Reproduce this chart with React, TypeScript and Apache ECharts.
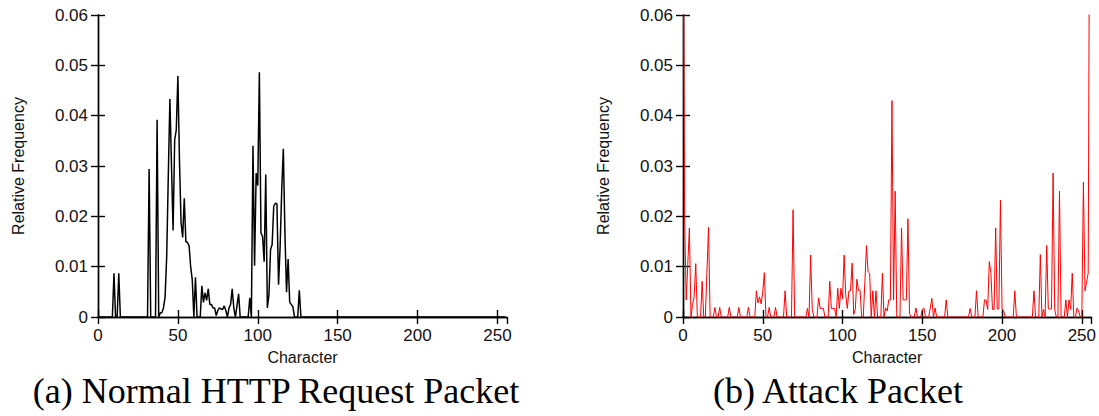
import React, { useEffect, useRef } from "react";
import * as echarts from "echarts";

// Tick values
const xTickValues = [0, 50, 100, 150, 200, 250];
const yTickLabels = ["0", "0.01", "0.02", "0.03", "0.04", "0.05", "0.06"];

// Relative frequency of each byte value (0..255), normal HTTP request packet
const normalFreq = [
  0, 0, 0, 0, 0, 0, 0, 0, 0, 0, 0.0087, 0, 0, 0.0087, 0, 0,
  0, 0, 0, 0, 0, 0, 0, 0, 0, 0, 0, 0, 0, 0, 0, 0,
  0.0294, 0, 0, 0, 0, 0.0392, 0, 0.0008, 0.0009, 0.0018, 0.004, 0.012, 0.028, 0.0433, 0.03, 0.0172,
  0.0352, 0.0372, 0.0479, 0.031, 0.0187, 0.0158, 0.0236, 0.015, 0.0148, 0.0142, 0.01, 0.0074, 0, 0.0079, 0, 0,
  0, 0.0062, 0.0029, 0.0048, 0.0033, 0.0056, 0.0025, 0.0025, 0.0018, 0.0018, 0.0003, 0.0013, 0.0018, 0.0016, 0.0015, 0.0022,
  0.0013, 0, 0.0018, 0.0025, 0.0056, 0.0018, 0, 0.0022, 0.0046, 0, 0, 0, 0, 0, 0, 0.0038,
  0, 0.034, 0.0102, 0.0286, 0.0261, 0.0486, 0.0167, 0.016, 0.011, 0.0283, 0.0018, 0.0044, 0.0134, 0.0144, 0.022, 0.0226,
  0.0225, 0.0064, 0.014, 0.0253, 0.0334, 0.0167, 0.0049, 0.0115, 0.0029, 0.0025, 0.002, 0, 0, 0, 0.0053, 0,
  0, 0, 0, 0, 0, 0, 0, 0, 0, 0, 0, 0, 0, 0, 0, 0,
  0, 0, 0, 0, 0, 0, 0, 0, 0, 0, 0, 0, 0, 0, 0, 0,
  0, 0, 0, 0, 0, 0, 0, 0, 0, 0, 0, 0, 0, 0, 0, 0,
  0, 0, 0, 0, 0, 0, 0, 0, 0, 0, 0, 0, 0, 0, 0, 0,
  0, 0, 0, 0, 0, 0, 0, 0, 0, 0, 0, 0, 0, 0, 0, 0,
  0, 0, 0, 0, 0, 0, 0, 0, 0, 0, 0, 0, 0, 0, 0, 0,
  0, 0, 0, 0, 0, 0, 0, 0, 0, 0, 0, 0, 0, 0, 0, 0,
  0, 0, 0, 0, 0, 0, 0, 0, 0, 0, 0, 0, 0, 0, 0, 0,
];

// Relative frequency of each byte value (0..255), attack packet
const attackFreq = [
  0.1, 0.02, 0.0034, 0.0105, 0.0177, 0, 0.0025, 0.004, 0.0106, 0, 0, 0, 0.0071, 0, 0, 0.0089,
  0.0178, 0, 0, 0, 0.0019, 0, 0, 0.0019, 0, 0, 0, 0, 0, 0.0019, 0, 0,
  0, 0, 0, 0.0019, 0, 0, 0, 0, 0, 0.0019, 0, 0, 0, 0, 0.0052, 0.0028,
  0.004, 0.0026, 0.005, 0.0088, 0, 0, 0.0019, 0, 0, 0, 0.0019, 0, 0, 0, 0, 0,
  0.0052, 0, 0, 0, 0, 0.0213, 0, 0, 0, 0, 0, 0, 0, 0, 0.0017, 0,
  0.0123, 0.0017, 0, 0, 0, 0.0038, 0.0017, 0.0017, 0.0017, 0, 0, 0, 0.0071, 0.0017, 0.0017, 0.0017,
  0, 0.0057, 0.0017, 0.0057, 0.0036, 0.0123, 0.0045, 0.0017, 0.0052, 0.0052, 0.0107, 0.0005, 0.0015, 0.0075, 0.0053, 0.0053,
  0, 0, 0.007, 0.0142, 0.009, 0.0087, 0, 0.0052, 0, 0.0052, 0, 0, 0, 0.0087, 0, 0.0018,
  0.0012, 0.0034, 0.0034, 0.043, 0.0034, 0.025, 0, 0, 0, 0.0177, 0.0034, 0.0034, 0.0034, 0.0195, 0.0007, 0,
  0, 0, 0.0018, 0, 0, 0, 0.0015, 0.0018, 0, 0, 0, 0.0018, 0.0037, 0, 0.0018, 0,
  0, 0, 0, 0, 0, 0.0034, 0, 0, 0, 0, 0, 0, 0, 0, 0, 0,
  0, 0, 0, 0, 0.0017, 0, 0, 0, 0.0052, 0, 0, 0, 0, 0.0034, 0.0034, 0.0015,
  0.011, 0.0089, 0.0015, 0.0015, 0.0177, 0.0016, 0.0016, 0.0232, 0.0016, 0.0012, 0, 0, 0, 0, 0, 0,
  0.0052, 0, 0, 0, 0, 0, 0, 0, 0, 0, 0, 0, 0.0052, 0, 0, 0,
  0.0124, 0, 0.0015, 0, 0.0142, 0.0016, 0.0016, 0.0016, 0.0286, 0.0015, 0, 0, 0.025, 0, 0, 0,
  0.0034, 0, 0.0034, 0.0015, 0.0087, 0, 0, 0.0018, 0.0012, 0, 0, 0.0268, 0.0052, 0.007, 0.0087, 0.1,
];

const panelTitles = ["(a) Normal HTTP Request Packet", "(b) Attack Packet"];
const xAxisName = "Character";
const yAxisName = "Relative Frequency";

export default function App() {
  const ref = useRef<HTMLDivElement>(null);

  useEffect(() => {
    const chart = echarts.init(ref.current!, null, { renderer: "svg" });
    const sans = "Liberation Sans";
    const lineCol = "#000";
    const grids = [
      { left: 98, top: 15, width: 409, height: 302 },
      { left: 683, top: 15, width: 409, height: 302 },
    ];
    const xAxes: any[] = [];
    const yAxes: any[] = [];
    grids.forEach((_, g) => {
      const tick = { show: true, inside: true, length: 7, lineStyle: { color: lineCol, width: 1.4 } };
      const axLine = { show: true, lineStyle: { color: lineCol, width: 1.4 } };
      xAxes.push({
        type: "value", gridIndex: g, position: "bottom", min: 0, max: 256, interval: 50,
        axisLine: axLine, axisTick: tick, splitLine: { show: false },
        axisLabel: {
          color: "#111", fontSize: 17, fontFamily: sans, margin: 10, showMaxLabel: false,
          formatter: (v: number) => (xTickValues.includes(v) ? String(v) : ""),
        },
        name: xAxisName, nameLocation: "middle", nameGap: 32,
        nameTextStyle: { color: "#111", fontSize: 16, fontFamily: sans },
      });
      xAxes.push({
        type: "value", gridIndex: g, position: "top", min: 0, max: 256, interval: 50,
        axisLine: axLine, axisTick: tick, splitLine: { show: false }, axisLabel: { show: false },
      });
      yAxes.push({
        type: "value", gridIndex: g, position: "left", min: 0, max: 0.06, interval: 0.01,
        axisLine: axLine, axisTick: tick, splitLine: { show: false },
        axisLabel: {
          color: "#111", fontSize: 17, fontFamily: sans, margin: 10,
          formatter: (v: number) => yTickLabels[Math.round(v / 0.01)] ?? "",
        },
        name: yAxisName, nameLocation: "middle", nameGap: 72, nameRotate: 90,
        nameTextStyle: { color: "#111", fontSize: 16, fontFamily: sans },
      });
      yAxes.push({
        type: "value", gridIndex: g, position: "right", min: 0, max: 0.06, interval: 0.01,
        axisLine: axLine, axisTick: tick, splitLine: { show: false }, axisLabel: { show: false },
      });
    });

    const toPairs = (arr: number[]) => arr.map((v, i) => [i, v]);

    chart.setOption({
      animation: false,
      backgroundColor: "#fff",
      grid: grids,
      xAxis: xAxes,
      yAxis: yAxes,
      series: [
        {
          type: "line", xAxisIndex: 0, yAxisIndex: 0, data: toPairs(normalFreq),
          showSymbol: false, clip: true, silent: true,
          lineStyle: { color: "#000", width: 1.5 },
        },
        {
          type: "line", xAxisIndex: 2, yAxisIndex: 2, data: toPairs(attackFreq),
          showSymbol: false, clip: true, silent: true,
          lineStyle: { color: "#ff0000", width: 1 },
        },
      ],
      graphic: [
        {
          type: "text", x: 276, y: 391,
          style: { text: panelTitles[0], fill: "#000", font: "36px 'Liberation Serif'", textAlign: "center", textVerticalAlign: "middle" },
        },
        {
          type: "text", x: 838, y: 391,
          style: { text: panelTitles[1], fill: "#000", font: "36px 'Liberation Serif'", textAlign: "center", textVerticalAlign: "middle" },
        },
      ],
    });
    return () => chart.dispose();
  }, []);

  return <div ref={ref} style={{ position: "absolute", left: 0, top: 0, width: 1099, height: 416 }} />;
}
